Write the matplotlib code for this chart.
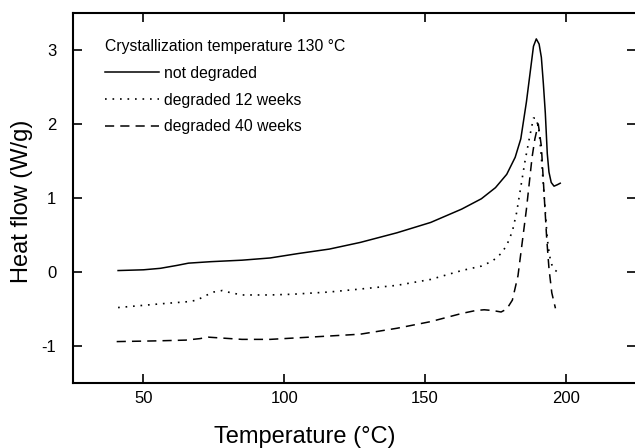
import matplotlib
matplotlib.use("Agg")
import matplotlib.pyplot as plt

plt.rcParams['font.family'] = ['Liberation Sans', 'DejaVu Sans']
plt.rcParams['axes.unicode_minus'] = False

# DSC heating scans after crystallization at 130 C
t_ref = [41, 50, 56, 62, 66, 74, 85, 95, 105, 116, 127, 140, 152, 163, 170,
         175, 179, 182, 184, 186, 187.5, 188.5, 189.5, 190.5, 191.3, 192,
         192.7, 193.4, 194, 194.8, 195.8, 197, 198]
hf_ref = [0.02, 0.03, 0.05, 0.09, 0.12, 0.14, 0.16, 0.19, 0.25, 0.31, 0.40,
          0.53, 0.67, 0.85, 0.99, 1.14, 1.32, 1.55, 1.80, 2.30, 2.75, 3.05,
          3.15, 3.08, 2.90, 2.55, 2.15, 1.60, 1.35, 1.21, 1.16, 1.18, 1.20]

t_12w = [41, 56, 66, 69, 72, 75, 78, 81, 85, 95, 103, 116, 127, 140, 152,
         163, 170, 174, 177, 179, 181, 182.5, 184, 185.5, 187, 188.5, 189.5,
         190.5, 191.3, 192.4, 193.4, 194.2, 195, 196, 197]
hf_12w = [-0.48, -0.43, -0.40, -0.38, -0.32, -0.27, -0.25, -0.28, -0.31,
          -0.31, -0.30, -0.27, -0.23, -0.18, -0.10, 0.02, 0.08, 0.15, 0.25,
          0.36, 0.55, 0.80, 1.15, 1.50, 1.80, 2.08, 2.08, 1.90, 1.55, 0.97,
          0.45, 0.22, 0.10, 0.03, 0.0]

t_40w = [40.5, 55, 65, 70, 73, 77, 85, 95, 109, 127, 140, 152, 163, 168, 171,
         174, 177, 179, 181, 183, 184.6, 186, 187, 188, 189, 190.2, 191.3,
         192.4, 193.2, 194, 195, 196.3]
hf_40w = [-0.94, -0.93, -0.92, -0.90, -0.88, -0.89, -0.91, -0.91, -0.88,
          -0.84, -0.76, -0.67, -0.56, -0.52, -0.51, -0.52, -0.54, -0.50,
          -0.38, -0.05, 0.43, 0.85, 1.20, 1.55, 1.80, 2.00, 1.70, 0.97, 0.45,
          0.05, -0.28, -0.49]

fig = plt.figure(figsize=(6.35, 4.48), dpi=100)
ax = fig.add_axes([0.115, 0.145, 0.887, 0.826])

ax.plot(t_ref, hf_ref, color='black', lw=1.1, label='not degraded')
ax.plot(t_12w, hf_12w, color='black', lw=1.2, linestyle=(0, (1, 3.5)),
        label='degraded 12 weeks')
ax.plot(t_40w, hf_40w, color='black', lw=1.1, linestyle=(0, (6, 4)),
        label='degraded 40 weeks')

ax.set_xlim(25, 225)
ax.set_ylim(-1.5, 3.5)
ax.set_xticks([50, 100, 150, 200])
ax.set_yticks([-1, 0, 1, 2, 3])
ax.tick_params(direction='in', top=True, right=True, length=6.5, width=1.2,
               labelsize=12)
ax.tick_params(axis='y', pad=12)
ax.tick_params(axis='x', pad=6)
for s in ax.spines.values():
    s.set_linewidth(1.5)

fig.text(0.48, 0.025, 'Temperature (°C)', ha='center', va='center', fontsize=17)
fig.text(0.035, 0.55, 'Heat flow (W/g)', ha='center', va='center',
         rotation=90, fontsize=17)

leg = ax.legend(title='Crystallization temperature 130 °C', loc='upper left',
                bbox_to_anchor=(105 / 635, 1 - 39 / 448),
                bbox_transform=fig.transFigure, frameon=False,
                alignment='left', borderpad=0, borderaxespad=0,
                handlelength=3.45, handletextpad=0.3, labelspacing=0.75,
                fontsize=11.3, title_fontsize=11.3)

fig.savefig('out.png', dpi=100)
